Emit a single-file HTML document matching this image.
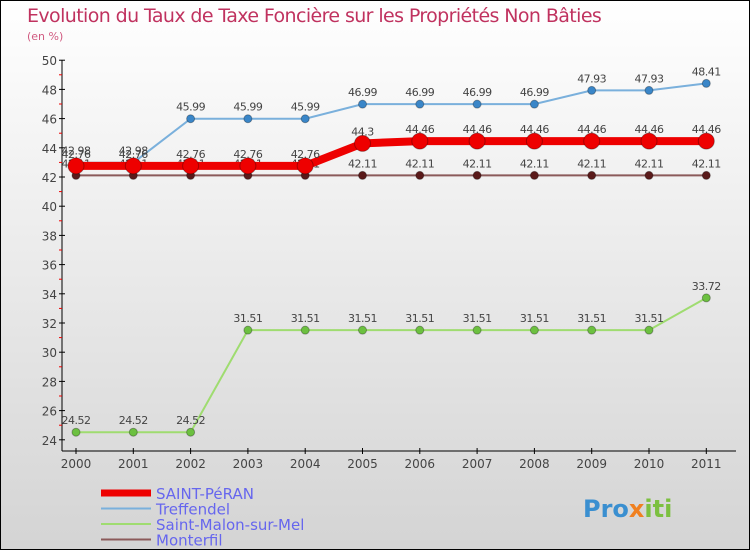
<!DOCTYPE html>
<html><head><meta charset="utf-8"><style>
body{margin:0}
#c{width:750px;height:550px;position:relative;background:linear-gradient(#fff,#d4d4d4);box-sizing:border-box;border:1px solid #000;font-family:"DejaVu Sans","Liberation Sans",sans-serif;overflow:hidden}
</style></head><body>
<div id="c">
<svg id="s" width="750" height="550" style="position:absolute;left:0;top:0">
<text x="26" y="21" font-size="19" fill="#c0325f" font-family="DejaVu Sans,sans-serif" style="letter-spacing:-0.6px">Evolution du Taux de Taxe Foncière sur les Propriétés Non Bâties</text>
<text x="26" y="39" font-size="11" fill="#d05a80">(en %)</text>
<g id="axes"></g><g id="series"></g><g id="legend"></g>
<text x="582" y="516" font-size="24" font-weight="bold" fill="#3a8fd0">Pro<tspan fill="#f08020">x</tspan><tspan fill="#7cc040">iti</tspan></text>
</svg>
</div>
<script>
const years=[2000,2001,2002,2003,2004,2005,2006,2007,2008,2009,2010,2011];
const yTicks=[24,26,28,30,32,34,36,38,40,42,44,46,48,50];
const seriesNames=["SAINT-PéRAN","Treffendel","Saint-Malon-sur-Mel","Monterfil"];
const saintPeran=[42.76,42.76,42.76,42.76,42.76,44.3,44.46,44.46,44.46,44.46,44.46,44.46];
const treffendel=[42.98,42.98,45.99,45.99,45.99,46.99,46.99,46.99,46.99,47.93,47.93,48.41];
const saintMalon=[24.52,24.52,24.52,31.51,31.51,31.51,31.51,31.51,31.51,31.51,31.51,33.72];
const monterfil=[42.11,42.11,42.11,42.11,42.11,42.11,42.11,42.11,42.11,42.11,42.11,42.11];
const NS="http://www.w3.org/2000/svg";
const X=i=>75+i*57.3, Y=v=>176-(v-42)*14.6;
function mk(p,t,a){const e=document.createElementNS(NS,t);for(const k in a)e.setAttribute(k,a[k]);p.appendChild(e);return e;}
const ax=document.getElementById('axes');
let e=mk(ax,'line',{x1:61,y1:Y(50),x2:61,y2:450,stroke:'#000'});


e=mk(ax,'line',{x1:61,y1:450,x2:735,y2:450,stroke:'#000'});


yTicks.forEach(v=>{
 mk(ax,'line',{x1:58,y1:Y(v),x2:64,y2:Y(v),stroke:'#000'});
 if(v<50) mk(ax,'line',{x1:58,y1:Y(v+1),x2:61,y2:Y(v+1),stroke:'#e00'});
 const t=mk(ax,'text',{x:56,y:Y(v)+5,'font-size':12,'text-anchor':'end',fill:'#444'});t.textContent=v;
 
 
});
years.forEach((y,i)=>{
 mk(ax,'line',{x1:X(i),y1:447,x2:X(i),y2:453,stroke:'#000'});
 const t=mk(ax,'text',{x:X(i),y:467,'font-size':12,'text-anchor':'middle',fill:'#444'});t.textContent=y;
 
 
});
const sg=document.getElementById('series');
const defs=[[monterfil,'#8b5a5a','#5a1a1a',2,4,'monterfil'],[saintMalon,'#9fdc70','#6cc040',2,4,'saint-malon-sur-mel'],[treffendel,'#7ab0dc','#3a86c8',2,4,'treffendel'],[saintPeran,'#ee0000','#ee0000',8,8,'saint-peran']];
defs.forEach(([d,lc,pc,w,r,n])=>{
 const l=mk(sg,'polyline',{points:d.map((v,i)=>X(i)+','+Y(v)).join(' '),fill:'none',stroke:lc,'stroke-width':w});
 
 
 d.forEach((v,i)=>{
  const c=mk(sg,'circle',{cx:X(i),cy:Y(v),r:r,fill:pc,stroke:'rgba(0,0,0,0.3)'});
  
  
  const t=mk(sg,'text',{x:X(i),y:Y(v)-8,'font-size':11,'text-anchor':'middle',fill:'#444','letter-spacing':'-0.5'});t.textContent=v;
  
  
 });
});
const lg=document.getElementById('legend');
const lcol=['#ee0000','#7ab0dc','#9fdc70','#8b5a5a'],lw=[7,2,2,2];
seriesNames.forEach((n,i)=>{
 const y=492+i*15.5;
 const l=mk(lg,'line',{x1:100,y1:y,x2:150,y2:y,stroke:lcol[i],'stroke-width':lw[i]});
 
 
 const t=mk(lg,'text',{x:155,y:y+6,'font-size':15,fill:'#6666ee'});t.textContent=n;
 
 
});
</script>
</body></html>
